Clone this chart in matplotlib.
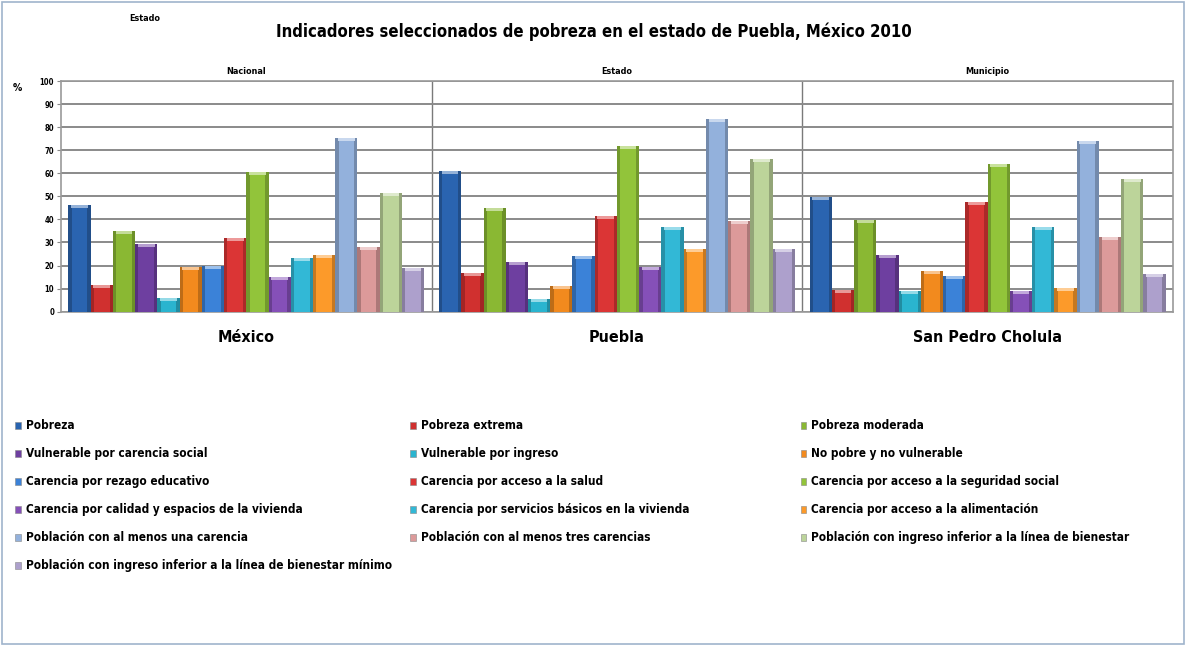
import matplotlib
matplotlib.use("Agg")
import matplotlib.pyplot as plt
from matplotlib.patches import Rectangle
from matplotlib.colors import to_rgb

plt.rcParams['font.family'] = ['DejaVu Sans']
plt.rcParams['font.stretch'] = 'condensed'
plt.rcParams['font.weight'] = 'bold'

places = ["México", "Puebla", "San Pedro Cholula"]
headers = ["Nacional", "Estado", "Municipio"]
series = [
    "Pobreza", "Pobreza extrema", "Pobreza moderada",
    "Vulnerable por carencia social", "Vulnerable por ingreso", "No pobre y no vulnerable",
    "Carencia por rezago educativo", "Carencia por acceso a la salud",
    "Carencia por acceso a la seguridad social",
    "Carencia por calidad y espacios de la vivienda",
    "Carencia por servicios básicos en la vivienda", "Carencia por acceso a la alimentación",
    "Población con al menos una carencia", "Población con al menos tres carencias",
    "Población con ingreso inferior a la línea de bienestar",
    "Población con ingreso inferior a la línea de bienestar mínimo",
]
mexico = [46.2, 11.6, 35.0, 29.5, 5.8, 19.3, 20.0, 32.0, 60.7, 15.2, 23.1, 24.6, 75.2, 28.2, 51.3, 18.8]
puebla = [61.0, 16.6, 44.8, 21.7, 5.4, 11.3, 24.3, 41.6, 71.8, 19.5, 36.6, 27.0, 83.4, 39.3, 66.0, 27.0]
cholula = [49.8, 9.4, 39.7, 24.6, 9.1, 17.8, 15.6, 47.7, 63.9, 9.1, 36.6, 10.4, 74.0, 32.5, 57.4, 16.2]
colors = ["#2A64B0", "#D0302F", "#8AB833", "#6E3FA0", "#2AB4CF", "#F28A1E",
          "#3B82D8", "#DB3535", "#92C43A", "#8550B8", "#32B8D6", "#FC9A2A",
          "#93B1DC", "#DC9A9A", "#BCD49A", "#ADA0CC"]

data = [mexico, puebla, cholula]

fig = plt.figure(figsize=(11.86, 6.46), dpi=100)
ax = fig.add_axes([0.0514, 0.5175, 0.9376, 0.3571])

n = len(series)
w = 0.060
for i in range(n):
    vals = [d[i] for d in data]
    xs = [g + (i - (n - 1) / 2) * w for g in range(3)]
    c = to_rgb(colors[i])
    dark = tuple(v * 0.78 for v in c)
    light = tuple(v + (1 - v) * 0.5 for v in c)
    ax.bar(xs, vals, width=w, color=dark, linewidth=0, zorder=3)
    ax.bar(xs, vals, width=w * 0.7, color=c, linewidth=0, zorder=3)
    ax.bar(xs, [1.3] * 3, bottom=[v - 1.3 for v in vals], width=w * 0.75,
           color=light, linewidth=0, zorder=4)

ax.set_xlim(-0.5, 2.5)
ax.set_ylim(0, 100)
ax.set_yticks(range(0, 101, 10))
ax.tick_params(axis='y', labelsize=5.5, length=3, pad=2, color="#888888")
ax.set_xticks([])
ax.grid(axis='y', color="#8a8a8a", linewidth=1.4, zorder=1)
for xd in [0.5, 1.5]:
    ax.axvline(xd, color="#7a7a7a", linewidth=1, zorder=1)
for s in ax.spines.values():
    s.set_color("#9a9a9a")
    s.set_linewidth(1.2)

for g in range(3):
    ax.text(g, 102, headers[g], ha='center', va='bottom', fontsize=6.5)
    ax.text(g, -8, places[g], ha='center', va='top', fontsize=11.5)

fig.text(0.501, 0.951, "Indicadores seleccionados de pobreza en el estado de Puebla, México 2010",
         ha='center', va='center', fontsize=12)
fig.text(0.122, 0.972, "Estado", ha='center', va='center', fontsize=6.5)
fig.text(0.015, 0.864, "%", ha='center', va='center', fontsize=7.5)

# legend, row-major in three columns
colx = [0.0126, 0.3457, 0.675]
for i in range(n):
    r, cidx = divmod(i, 3)
    y = 0.342 - r * 0.0435
    fig.patches.append(Rectangle((colx[cidx], y - 0.006), 0.005, 0.011,
                                 transform=fig.transFigure, facecolor=colors[i],
                                 edgecolor="#888888", linewidth=0.4))
    fig.text(colx[cidx] + 0.009, y, series[i], ha='left', va='center', fontsize=8.5)

fig.patches.append(Rectangle((0.002, 0.003), 0.996, 0.994, transform=fig.transFigure,
                             fill=False, edgecolor="#9fb4cc", linewidth=1.2))

fig.savefig("out.png", dpi=100)
